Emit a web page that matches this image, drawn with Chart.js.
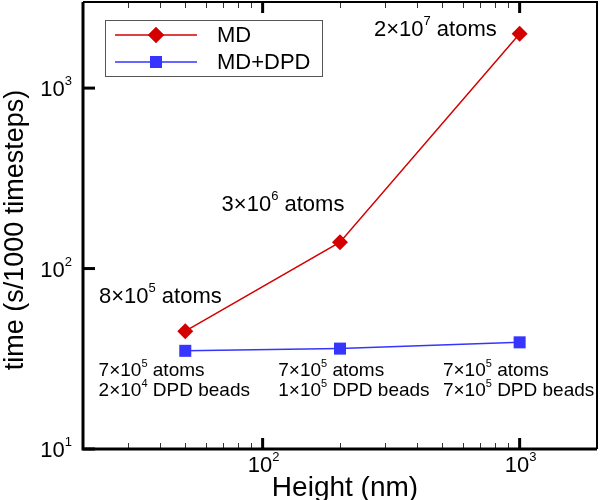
<!DOCTYPE html>
<html>
<head>
<meta charset="utf-8">
<script src="https://cdn.jsdelivr.net/npm/chart.js@4/dist/chart.umd.min.js"></script>
<style>
  html, body { margin: 0; padding: 0; background: #fff; }
  #wrap { width: 600px; height: 500px; position: relative; }
</style>
</head>
<body>
<div id="wrap"><canvas id="timingChart"></canvas></div>
<script>
/* Data */
const heights = [50, 200, 1000];
const md_times = [45, 140, 2000];
const md_dpd_times = [35, 36, 39];

const x_major_ticks = [100, 1000];
const x_minor_ticks = [30, 40, 50, 60, 70, 80, 90, 200, 300, 400, 500, 600, 700, 800, 900];
const y_major_ticks = [10, 100, 1000];
const x_tick_labels = ['10^{2}', '10^{3}'];
const y_tick_labels = ['10^{1}', '10^{2}', '10^{3}'];

// annotation text, anchored at data coordinates
const upper_labels = ['8×10^{5} atoms', '3×10^{6} atoms', '2×10^{7} atoms'];
const upper_label_x = [40, 120, 470];
const upper_label_y = [70, 225, 2100];
const lower_labels = [
  ['7×10^{5} atoms', '2×10^{4} DPD beads'],
  ['7×10^{5} atoms', '1×10^{5} DPD beads'],
  ['7×10^{5} atoms', '7×10^{5} DPD beads']
];
const lower_label_x = [23, 115, 503];
const lower_label_y = 27;

const series_names = ['MD', 'MD+DPD'];

/* Styles */
const FONT = '"Liberation Sans", Arial, sans-serif';
const red = '#d40000';
const blue = '#3535ff';

// draws text with ^{..} superscripts, y is middle
function drawRich(ctx, text, x, y, size, align) {
  const parts = text.split(/(\^\{[^}]*\})/).filter(p => p.length);
  const supSize = Math.round(size * 0.6);
  let total = 0;
  const pieces = parts.map(p => {
    const sup = p.startsWith('^{');
    const t = sup ? p.slice(2, -1) : p;
    ctx.font = (sup ? supSize : size) + 'px ' + FONT;
    const w = ctx.measureText(t).width;
    total += w;
    return { t, sup, w };
  });
  let cx = x;
  if (align === 'center') cx = x - total / 2;
  if (align === 'right') cx = x - total;
  ctx.textBaseline = 'middle';
  ctx.textAlign = 'left';
  pieces.forEach(p => {
    ctx.font = (p.sup ? supSize : size) + 'px ' + FONT;
    ctx.fillText(p.t, cx, p.sup ? y - size * 0.38 : y);
    cx += p.w;
  });
}

const framePlugin = {
  id: 'frame',
  afterDatasetsDraw(chart) {
    const ctx = chart.ctx;
    const a = chart.chartArea;
    const xs = chart.scales.x, ys = chart.scales.y;
    ctx.save();
    ctx.fillStyle = '#000';
    ctx.strokeStyle = '#000';

    // minor ticks bottom and top
    ctx.lineWidth = 1;
    ctx.strokeStyle = '#333';
    x_minor_ticks.forEach(v => {
      const px = Math.round(xs.getPixelForValue(v)) + 0.5;
      ctx.beginPath();
      ctx.moveTo(px, a.bottom); ctx.lineTo(px, a.bottom - 6);
      ctx.moveTo(px, a.top); ctx.lineTo(px, a.top + 6);
      ctx.stroke();
    });
    // major ticks
    ctx.strokeStyle = '#000';
    ctx.lineWidth = 3;
    x_major_ticks.forEach(v => {
      const px = xs.getPixelForValue(v);
      ctx.beginPath();
      ctx.moveTo(px, a.bottom); ctx.lineTo(px, a.bottom - 11);
      ctx.moveTo(px, a.top); ctx.lineTo(px, a.top + 11);
      ctx.stroke();
    });
    y_major_ticks.forEach(v => {
      const py = ys.getPixelForValue(v);
      ctx.beginPath();
      ctx.moveTo(a.left, py); ctx.lineTo(a.left + 12, py);
      ctx.stroke();
    });

    // axes box
    ctx.lineWidth = 3;
    ctx.beginPath();
    ctx.moveTo(a.left, a.top); ctx.lineTo(a.left, a.bottom); ctx.lineTo(a.right, a.bottom);
    ctx.stroke();
    ctx.lineWidth = 2;
    ctx.beginPath();
    ctx.moveTo(a.left, a.top); ctx.lineTo(a.right, a.top); ctx.lineTo(a.right, a.bottom);
    ctx.stroke();

    // tick labels
    ctx.fillStyle = '#000';
    x_major_ticks.forEach((v, i) => {
      drawRich(ctx, x_tick_labels[i], xs.getPixelForValue(v) + 1, a.bottom + 17, 22, 'center');
    });
    y_major_ticks.forEach((v, i) => {
      drawRich(ctx, y_tick_labels[i], a.left - 11, ys.getPixelForValue(v) + 2, 22, 'right');
    });

    // axis titles
    ctx.font = '28px ' + FONT;
    ctx.textAlign = 'center';
    ctx.textBaseline = 'middle';
    ctx.fillText('Height (nm)', 345, 488);
    ctx.font = '27px ' + FONT;
    ctx.save();
    ctx.translate(16, 230);
    ctx.rotate(-Math.PI / 2);
    ctx.fillText('time (s/1000 timesteps)', 0, 0);
    ctx.restore();

    // annotations
    upper_labels.forEach((t, i) => {
      drawRich(ctx, t, xs.getPixelForValue(upper_label_x[i]), ys.getPixelForValue(upper_label_y[i]), 22, 'center');
    });
    lower_labels.forEach((lines, i) => {
      const px = xs.getPixelForValue(lower_label_x[i]);
      const py = ys.getPixelForValue(lower_label_y);
      lines.forEach((t, j) => drawRich(ctx, t, px, py + j * 20, 19, 'left'));
    });

    // legend
    const lx = a.left + 22, ly = a.top + 18;
    ctx.lineWidth = 1;
    ctx.strokeStyle = '#555';
    ctx.fillStyle = '#fff';
    ctx.fillRect(lx, ly, 217, 56);
    ctx.strokeRect(lx + 0.5, ly + 0.5, 217, 56);
    const cols = [red, blue];
    const shapes = ['rectRot', 'rect'];
    series_names.forEach((name, i) => {
      const yy = ly + 15 + i * 27;
      ctx.strokeStyle = cols[i];
      ctx.lineWidth = 1.5;
      ctx.beginPath();
      ctx.moveTo(lx + 10, yy); ctx.lineTo(lx + 92, yy);
      ctx.stroke();
      ctx.fillStyle = cols[i];
      Chart.helpers.drawPoint(ctx, { pointStyle: shapes[i], radius: i === 0 ? 8 : 8.5, borderWidth: 0 }, lx + 51, yy);
      ctx.fill();
      ctx.fillStyle = '#000';
      ctx.font = '22px ' + FONT;
      ctx.textAlign = 'left';
      ctx.textBaseline = 'middle';
      ctx.fillText(name, lx + 112, yy + 1);
    });
    ctx.restore();
  }
};

const ctxTiming = document.getElementById('timingChart').getContext('2d');
const timingChart = new Chart(ctxTiming, {
  type: 'line',
  data: {
    datasets: [{
      label: series_names[0],
      data: heights.map((h, i) => ({ x: h, y: md_times[i] })),
      borderColor: red,
      backgroundColor: red,
      borderWidth: 1.5,
      pointStyle: 'rectRot',
      pointRadius: 8,
      pointBorderWidth: 0,
      fill: false
    },
    {
      label: series_names[1],
      data: heights.map((h, i) => ({ x: h, y: md_dpd_times[i] })),
      borderColor: blue,
      backgroundColor: blue,
      borderWidth: 1.5,
      pointStyle: 'rect',
      pointRadius: 8.5,
      pointBorderWidth: 0,
      fill: false
    }]
  },
  options: {
    responsive: true,
    maintainAspectRatio: false,
    animation: false,
    layout: { autoPadding: false, padding: { top: 2, right: 3, left: 0, bottom: 0 } },
    plugins: { legend: { display: false }, tooltip: { enabled: false } },
    scales: {
      x: {
        type: 'logarithmic',
        min: 20,
        max: 2000,
        ticks: { display: false },
        grid: { display: false },
        border: { display: false },
        afterFit: function (scale) { scale.height = 51; }
      },
      y: {
        type: 'logarithmic',
        min: 10,
        max: 3000,
        ticks: { display: false },
        grid: { display: false },
        border: { display: false },
        afterFit: function (scale) { scale.width = 83; }
      }
    }
  },
  plugins: [framePlugin]
});
</script>
</body>
</html>
